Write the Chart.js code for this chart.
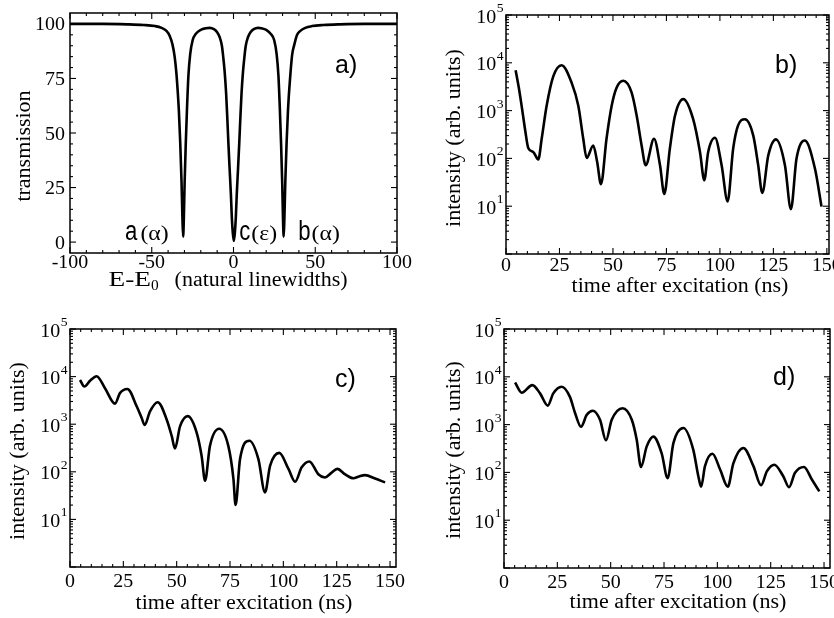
<!DOCTYPE html>
<html><head><meta charset="utf-8">
<script src="https://cdn.jsdelivr.net/npm/chart.js@4.4.1/dist/chart.umd.min.js"></script>
<style>
html,body{margin:0;padding:0;background:#fff;}
#wrap{position:relative;width:834px;height:618px;overflow:hidden;background:#fff;}
#wrap canvas{position:absolute;left:0;top:0;}
</style></head><body>
<div id="wrap">
<canvas id="ca" width="834" height="618"></canvas>
<canvas id="cb" width="834" height="618"></canvas>
<canvas id="cc" width="834" height="618"></canvas>
<canvas id="cd" width="834" height="618"></canvas>
</div>
<script>
// ---------- data ----------
// panel a) transmission vs E-E0 (natural linewidths)
const aEnergy = [-100,-80,-65,-55,-48,-44,-41,-39,-37.3,-36,-35,-34.2,-33.4,-32.6,-31.8,-31.2,-30.8,-30.4,-29.9,-29.2,-28.4,-27.6,-26.5,-25,-23,-20,-17,-14.5,
  -12,-10,-8.5,-7.1,-6.3,-5.4,-4.5,-3.8,-3.1,-2.4,-1.6,-1.0,-0.4,0.2,0.8,1.4,2.0,2.8,3.5,4.2,4.9,5.8,6.7,7.5,8.9,10.4,12.4,15,
  17,20,22.7,24.9,26.4,27.5,28.3,29.1,29.8,30.3,30.7,31.1,31.7,32.5,33.3,34.1,34.9,35.9,37.2,38.9,40.9,43.9,48,55,65,80,100];
const aTransmission = [100,100,99.8,99.5,99,98.2,96.8,94.5,90.5,85,78,70,60,46,28,10,2.5,10,27,45,62,76,86,92.5,95.5,97.3,98,98.2,
  97.6,96.2,94,90,85,78,68,57,45,34,22,11,4,0.5,4,11,22,34,45,57,68,78,85,90,94,96.2,97.6,98.2,
  98,97.3,95.5,92.5,86,76,62,45,27,10,2.5,10,28,46,60,70,78,86,90.5,95,96.8,98.2,99,99.5,99.8,100,100];

// panel b) intensity vs time
const bTime = [4.5,6,7.5,9,10.4,12.8,15.1,16.7,19.0,22.1,26.0,30.7,33.8,36.1,37.7,40.8,42.6,44.4,47.0,49.4,51.7,54.8,58.7,61.1,63.4,65.3,
  69.2,72.0,74.0,76.6,79.0,82.9,87.5,90.7,92.7,94.5,97.7,100.8,103.6,106.2,108.5,111.7,115.6,117.9,119.8,122.6,126.2,130.4,133.2,135.8,139.7,144.4,147.5];
const bIntensity = [7000,3000,1100,380,165,135,95,260,1260,5200,8900,3800,1260,260,102,186,85,29,260,1260,3000,4200,2400,780,186,72,
  258,72,18,160,780,1740,660,135,35,135,270,72,12.6,160,490,660,300,72,19,115,250,72,8.7,98,236,62,9.8];

// panel c) intensity vs time
const cTime = [4.7,6.7,9.5,12.5,16.4,21.1,23.4,26.9,31.3,33.6,35.0,37.5,41.1,45.3,47.7,49.2,51.6,55.2,59.4,61.7,63.3,65.6,69.9,74.2,76.6,77.6,
  79.7,84.1,88.3,91.4,93.8,98.1,102.4,105.5,108.6,112.2,116.4,119.5,122.5,125.3,129,132.8,135.5,138.3,143,147.7];
const cIntensity = [8500,6200,8300,10200,5700,2700,4500,5500,2350,1350,960,1860,2900,1260,560,310,910,1480,660,214,65,350,800,350,71,20,
  185,450,185,37,135,250,115,62,124,165,89,76,95,115,88,73,80,85,72,60];

// panel d) intensity vs time
const dTime = [5.2,8.3,13.3,16.9,20.5,23.1,27.0,30.9,33.3,36.1,38.8,41.6,45.0,47.8,50.5,55.6,59.9,62.2,64.2,66.9,70.0,73.9,76.7,
  79.4,84.1,88.7,91.1,92.4,94.2,97.7,101.3,104.9,107.5,112.2,116.9,120.5,123.2,126.7,130.9,133.6,136.4,140.6,144.3,147.8];
const dIntensity = [7600,4650,6700,4500,2500,4500,6200,3800,1750,900,1600,1950,1260,470,1260,2200,1260,480,130,350,560,250,76,
  410,850,300,83,50,135,245,115,50,155,325,135,54,105,145,83,49,98,130,71,40];

// tick labels
const aXTicks = [-100,-50,0,50,100];
const aYTicks = [0,25,50,75,100];
const timeTicks = [0,25,50,75,100,125,150];
const logExponents = [1,2,3,4,5];

// texts
const aYTitle = 'transmission';
const aXTitleMain = 'E-E';
const aXTitleSub = '0';
const aXTitleRest = '(natural linewidths)';
const intensityTitle = 'intensity (arb. units)';
const timeTitle = 'time after excitation (ns)';
const peakLabels = [
  {E:-66.3, letter:'a', greek:'(\u03B1)', gap:3},
  {E:3.5,   letter:'c', greek:'(\u03B5)', gap:1},
  {E:39.6,  letter:'b', greek:'(\u03B1)', gap:1}
];

// ---------- drawing helpers ----------
const SERIF = '"Liberation Serif", "Times New Roman", serif';
const SANS = '"Liberation Sans", Arial, sans-serif';

function txt(ctx, s, x, y, size, fam, align, sx) {
  ctx.save();
  ctx.translate(x, y);
  ctx.scale(sx || 1, 1);
  ctx.font = size + 'px ' + fam;
  ctx.textAlign = align || 'left';
  ctx.textBaseline = 'alphabetic';
  ctx.fillText(s, 0, 0);
  ctx.restore();
}
function txtW(ctx, s, size, fam, sx) {
  ctx.save(); ctx.font = size + 'px ' + fam;
  const w = ctx.measureText(s).width * (sx || 1);
  ctx.restore(); return w;
}
function vtxt(ctx, s, x, y, size, fam, sx) {
  ctx.save();
  ctx.translate(x, y);
  ctx.rotate(-Math.PI / 2);
  ctx.scale(sx || 1, 1);
  ctx.font = size + 'px ' + fam;
  ctx.textAlign = 'center';
  ctx.textBaseline = 'alphabetic';
  ctx.fillText(s, 0, 0);
  ctx.restore();
}
function line(ctx, x1, y1, x2, y2) {
  ctx.beginPath(); ctx.moveTo(x1, y1); ctx.lineTo(x2, y2); ctx.stroke();
}

const TICK_SX = 1.05, TITLE_SX = 1.1;

const framePlugin = {
  id: 'frameTicks',
  afterDatasetsDraw(chart) {
    const P = chart.options.plugins.frameTicks;
    const ctx = chart.ctx, a = chart.chartArea;
    const xs = chart.scales.x, ys = chart.scales.y;
    ctx.save();
    ctx.fillStyle = '#000';
    ctx.strokeStyle = '#000';
    // frame
    ctx.lineWidth = 1.5;
    ctx.strokeRect(a.left, a.top, a.right - a.left, a.bottom - a.top);
    ctx.lineWidth = 1.1;
    const MAJ = 6, MIN = 3;
    // x ticks (inward, mirrored on top)
    for (let v = P.xMin; v <= P.xMax + 1e-9; v += P.xMinorStep) {
      const px = xs.getPixelForValue(v);
      const isMaj = Math.abs(v / P.xMajorStep - Math.round(v / P.xMajorStep)) < 1e-6;
      const L = isMaj ? MAJ : MIN;
      line(ctx, px, a.bottom, px, a.bottom - L);
      line(ctx, px, a.top, px, a.top + L);
    }
    // y ticks
    if (P.log) {
      for (let e = 0; e < 5; e++) {
        for (let m = 1; m <= 9; m++) {
          const v = m * Math.pow(10, e);
          const py = ys.getPixelForValue(v);
          const L = m === 1 ? MAJ : MIN;
          line(ctx, a.left, py, a.left + L, py);
          line(ctx, a.right, py, a.right - L, py);
        }
      }
      const top = ys.getPixelForValue(1e5);
      line(ctx, a.left, top, a.left + MAJ, top);
      line(ctx, a.right, top, a.right - MAJ, top);
    } else {
      for (let v = 0; v <= 100 + 1e-9; v += 5) {
        const py = ys.getPixelForValue(v);
        const L = (v % 25 === 0) ? MAJ : MIN;
        line(ctx, a.left, py, a.left + L, py);
        line(ctx, a.right, py, a.right - L, py);
      }
    }
    // x tick labels
    for (const v of P.xLabels) {
      const px = xs.getPixelForValue(v);
      txt(ctx, String(v), px, a.bottom + P.xLabelDy, 19, SERIF, 'center', TICK_SX);
    }
    // y tick labels
    if (P.log) {
      for (const e of logExponents) {
        const py = ys.getPixelForValue(Math.pow(10, e));
        const w1 = txtW(ctx, '10', 19, SERIF, TICK_SX);
        const w2 = txtW(ctx, String(e), 13, SERIF, TICK_SX);
        const x0 = a.left - 3 - w1 - w2;
        txt(ctx, '10', x0, py + 7.5, 19, SERIF, 'left', TICK_SX);
        txt(ctx, String(e), x0 + w1 + 0.5, py - 3, 13, SERIF, 'left', TICK_SX);
      }
    } else {
      for (const v of aYTicks) {
        const py = ys.getPixelForValue(v);
        txt(ctx, String(v), a.left - 5, py + 6.5, 19, SERIF, 'right', TICK_SX);
      }
    }
    // axis titles
    vtxt(ctx, P.yTitle, P.yTitleX, P.yTitleY, 20, SERIF, TITLE_SX);
    if (P.subTitle) {
      const sx1 = 1.3;
      const w1 = txtW(ctx, aXTitleMain, 21, SERIF, sx1);
      const w2 = txtW(ctx, aXTitleSub, 14, SERIF, TITLE_SX);
      const gap = 16;
      const w3 = txtW(ctx, aXTitleRest, 20, SERIF, TITLE_SX);
      let x = P.xTitleX - (w1 + w2 + gap + w3) / 2;
      txt(ctx, aXTitleMain, x, P.xTitleY, 21, SERIF, 'left', sx1); x += w1;
      txt(ctx, aXTitleSub, x, P.xTitleY + 4, 14, SERIF, 'left', TITLE_SX); x += w2 + gap;
      txt(ctx, aXTitleRest, x, P.xTitleY, 20, SERIF, 'left', TITLE_SX);
    } else {
      txt(ctx, P.xTitle, P.xTitleX, P.xTitleY, 20, SERIF, 'center', TITLE_SX);
    }
    // panel letter
    txt(ctx, P.panel, a.left + P.panelDx, a.top + P.panelDy, 25, SANS, 'left', 1);
    // peak labels
    if (P.peaks) {
      const baseY = ys.getPixelForValue(0.8);
      for (const pk of peakLabels) {
        let x = xs.getPixelForValue(pk.E);
        txt(ctx, pk.letter, x, baseY, 27, SANS, 'left', 0.82);
        x += txtW(ctx, pk.letter, 27, SANS, 0.82) + pk.gap;
        txt(ctx, pk.greek, x, baseY, 22, SERIF, 'left', 1.08);
      }
    }
    ctx.restore();
  }
};

function makeChart(id, xs, ys, area, scales, frameOpts) {
  const pts = xs.map((x, i) => ({x: x, y: ys[i]}));
  return new Chart(document.getElementById(id), {
    type: 'line',
    data: {datasets: [{
      data: pts,
      borderColor: '#000',
      borderWidth: 2.6,
      pointRadius: 0,
      fill: false,
      cubicInterpolationMode: 'monotone'
    }]},
    options: {
      responsive: false,
      animation: false,
      events: [],
      layout: {padding: {left: area.left, top: area.top, right: 834 - area.right, bottom: 618 - area.bottom}},
      plugins: {legend: {display: false}, tooltip: {enabled: false}, frameTicks: frameOpts},
      scales: scales
    },
    plugins: [framePlugin]
  });
}

function timeScales(xMax) {
  return {
    x: {type: 'linear', min: 0, max: xMax, display: false},
    y: {type: 'logarithmic', min: 1, max: 1e5, display: false}
  };
}

makeChart('ca', aEnergy, aTransmission, {left: 70, right: 397, top: 13, bottom: 253},
  {x: {type: 'linear', min: -100, max: 100, display: false}, y: {type: 'linear', min: -5, max: 105, display: false}},
  {log: false, xMin: -100, xMax: 100, xMinorStep: 10, xMajorStep: 50, xLabels: aXTicks, xLabelDy: 15,
   yTitle: aYTitle, yTitleX: 30, yTitleY: 146, subTitle: true, xTitleX: 228, xTitleY: 286,
   panel: 'a)', panelDx: 265, panelDy: 60, peaks: true});

makeChart('cb', bTime, bIntensity, {left: 506, right: 829, top: 15, bottom: 254}, timeScales(151),
  {log: true, xMin: 0, xMax: 150, xMinorStep: 5, xMajorStep: 25, xLabels: timeTicks, xLabelDy: 17,
   yTitle: intensityTitle, yTitleX: 460, yTitleY: 138, xTitle: timeTitle, xTitleX: 680, xTitleY: 292,
   panel: 'b)', panelDx: 269, panelDy: 58});

makeChart('cc', cTime, cIntensity, {left: 70, right: 396, top: 329, bottom: 567}, timeScales(152.8),
  {log: true, xMin: 0, xMax: 150, xMinorStep: 5, xMajorStep: 25, xLabels: timeTicks, xLabelDy: 19.5,
   yTitle: intensityTitle, yTitleX: 24, yTitleY: 451, xTitle: timeTitle, xTitleX: 244, xTitleY: 609,
   panel: 'c)', panelDx: 265, panelDy: 58});

makeChart('cd', dTime, dIntensity, {left: 504, right: 830, top: 329, bottom: 568}, timeScales(152.8),
  {log: true, xMin: 0, xMax: 150, xMinorStep: 5, xMajorStep: 25, xLabels: timeTicks, xLabelDy: 19.5,
   yTitle: intensityTitle, yTitleX: 460, yTitleY: 450, xTitle: timeTitle, xTitleX: 678, xTitleY: 608,
   panel: 'd)', panelDx: 269, panelDy: 56});
</script>
</body></html>
